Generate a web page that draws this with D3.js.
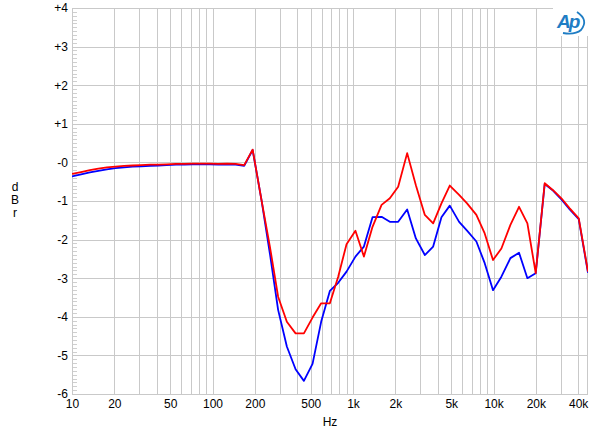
<!DOCTYPE html>
<html><head><meta charset="utf-8">
<script src="https://cdn.jsdelivr.net/npm/d3@7"></script>
<style>body{margin:0;background:#fff}svg{display:block}text{font-family:"Liberation Sans",Arial,sans-serif}</style>
</head><body>
<svg id="c" width="600" height="436"></svg>
<script>
const freqs = [10, 11.6, 13.4, 15.4, 17.7, 20.4, 23.5, 27, 31, 36, 41, 47, 55, 63, 72, 83, 96, 110, 127, 146, 168, 193, 223, 256, 293, 338, 390, 447, 515, 593, 684, 784, 899, 1040, 1195, 1376, 1596, 1828, 2095, 2428, 2800, 3243, 3717, 4258, 4880, 5687, 6477, 7546, 8650, 9910, 11370, 13180, 15180, 17410, 19950, 23120, 26490, 30390, 34830, 40380, 47000];
const redValues = [-0.30, -0.25, -0.20, -0.16, -0.13, -0.11, -0.09, -0.08, -0.07, -0.06, -0.06, -0.05, -0.04, -0.04, -0.03, -0.03, -0.03, -0.04, -0.03, -0.04, -0.07, 0.33, -0.97, -2.18, -3.48, -4.13, -4.43, -4.43, -4.02, -3.65, -3.65, -2.96, -2.12, -1.77, -2.44, -1.67, -1.10, -0.93, -0.63, 0.24, -0.59, -1.36, -1.58, -1.06, -0.60, -0.84, -1.06, -1.36, -1.84, -2.53, -2.23, -1.62, -1.15, -1.58, -2.87, -0.54, -0.72, -0.93, -1.19, -1.45, -2.83];
const blueValues = [-0.36, -0.31, -0.26, -0.22, -0.18, -0.15, -0.13, -0.11, -0.10, -0.09, -0.08, -0.07, -0.06, -0.06, -0.05, -0.05, -0.05, -0.06, -0.05, -0.06, -0.09, 0.32, -0.97, -2.36, -3.82, -4.77, -5.36, -5.66, -5.22, -4.13, -3.33, -3.12, -2.83, -2.44, -2.18, -1.42, -1.41, -1.54, -1.54, -1.22, -1.97, -2.40, -2.18, -1.42, -1.12, -1.54, -1.77, -2.05, -2.61, -3.31, -2.96, -2.48, -2.34, -3.00, -2.87, -0.56, -0.73, -0.96, -1.22, -1.47, -2.86];
const yTicks = [4, 3, 2, 1, 0, -1, -2, -3, -4, -5, -6];
const yTickLabels = ["+4", "+3", "+2", "+1", "-0", "-1", "-2", "-3", "-4", "-5", "-6"];
const xTickValues = [10, 20, 50, 100, 200, 500, 1000, 2000, 5000, 10000, 20000, 40000];
const xTickLabels = ["10", "20", "50", "100", "200", "500", "1k", "2k", "5k", "10k", "20k", "40k"];

const svg = d3.select("#c");
const L = 72, R = 588, T = 8, B = 394;
const x = d3.scaleLog().domain([10, 47000]).range([L, R]);
const y = d3.scaleLinear().domain([-6, 4]).range([B, T]);
const gridColor = "#c9c9c9";

// vertical grid lines
const vGrid = [];
for (let d = 10; d <= 10000; d *= 10) for (let m = 1; m <= 9; m++) { const f = d * m; if (f > 10 && f < 47000) vGrid.push(f); }
[20000,30000,40000].forEach(f => { if (!vGrid.includes(f)) vGrid.push(f); });
svg.append("g").selectAll("line").data(vGrid).join("line")
  .attr("x1", d => Math.round(x(d)) + 0.5).attr("x2", d => Math.round(x(d)) + 0.5)
  .attr("y1", T).attr("y2", B).attr("stroke", gridColor).attr("stroke-width", 1);
// horizontal grid
svg.append("g").selectAll("line").data(yTicks).join("line")
  .attr("x1", L).attr("x2", R)
  .attr("y1", d => Math.round(y(d)) + 0.5).attr("y2", d => Math.round(y(d)) + 0.5)
  .attr("stroke", gridColor).attr("stroke-width", 1);
// minor ticks on left axis
const minor = d3.range(-60, 41).filter(v => v % 10 !== 0).map(v => v / 10);
svg.append("g").selectAll("line").data(minor).join("line")
  .attr("x1", L).attr("x2", L + 5)
  .attr("y1", d => Math.round(y(d)) + 0.5).attr("y2", d => Math.round(y(d)) + 0.5)
  .attr("stroke", "#cfcfcf").attr("stroke-width", 1);
// border
svg.append("rect").attr("x", L + 0.5).attr("y", T + 0.5).attr("width", R - L - 1).attr("height", B - T)
  .attr("fill", "none").attr("stroke", gridColor);

// axes labels
const yAxis = d3.axisLeft(y).tickValues(yTicks).tickFormat((d, i) => yTickLabels[i]).tickSize(0).tickPadding(4);
const gy = svg.append("g").attr("transform", `translate(${L},0)`).call(yAxis);
gy.select(".domain").remove();
gy.selectAll("text").attr("font-size", 12).attr("fill", "#000").attr("font-family", "Liberation Sans, Arial, sans-serif");

const xAxis = d3.axisBottom(x).tickValues(xTickValues).tickFormat((d, i) => xTickLabels[i]).tickSize(0).tickPadding(5);
const gx = svg.append("g").attr("transform", `translate(0,${B})`).call(xAxis);
gx.select(".domain").remove();
gx.selectAll("text").attr("font-size", 12).attr("fill", "#000").attr("font-family", "Liberation Sans, Arial, sans-serif");

svg.append("text").attr("x", 330).attr("y", 426).attr("text-anchor", "middle").attr("font-size", 12).text("Hz");
["d", "B", "r"].forEach((c, i) => svg.append("text").attr("x", 15).attr("y", 191 + i * 13).attr("text-anchor", "middle").attr("font-size", 12).text(c));

// lines
const line = vals => d3.line().x((d, i) => x(freqs[i])).y(d => y(d))(vals);
const clip = svg.append("clipPath").attr("id", "pc").append("rect").attr("x", L).attr("y", T).attr("width", R - L).attr("height", B - T);
svg.append("path").attr("d", line(blueValues)).attr("fill", "none").attr("stroke", "#0000ff").attr("stroke-width", 1.8).attr("clip-path", "url(#pc)").attr("stroke-linejoin", "round");
svg.append("path").attr("d", line(redValues)).attr("fill", "none").attr("stroke", "#ff0000").attr("stroke-width", 1.8).attr("clip-path", "url(#pc)").attr("stroke-linejoin", "round");

// AP logo
const logo = svg.append("g").attr("transform", "translate(555,10)");
logo.append("rect").attr("x", -2).attr("y", -2).attr("width", 36).attr("height", 28).attr("fill", "#fff");
logo.append("text").attr("x", 2).attr("y", 18).attr("font-size", 19).attr("font-style", "italic").attr("font-weight", "bold")
  .attr("fill", "#1f7dc4").attr("font-family", "Liberation Sans, Arial, sans-serif").attr("letter-spacing", -2).text("Ap");
logo.append("path").attr("d", "M22,2 Q34,10 26,20 Q20,25 8,23").attr("fill", "none").attr("stroke", "#1f7dc4").attr("stroke-width", 1.8);
</script>
</body></html>
